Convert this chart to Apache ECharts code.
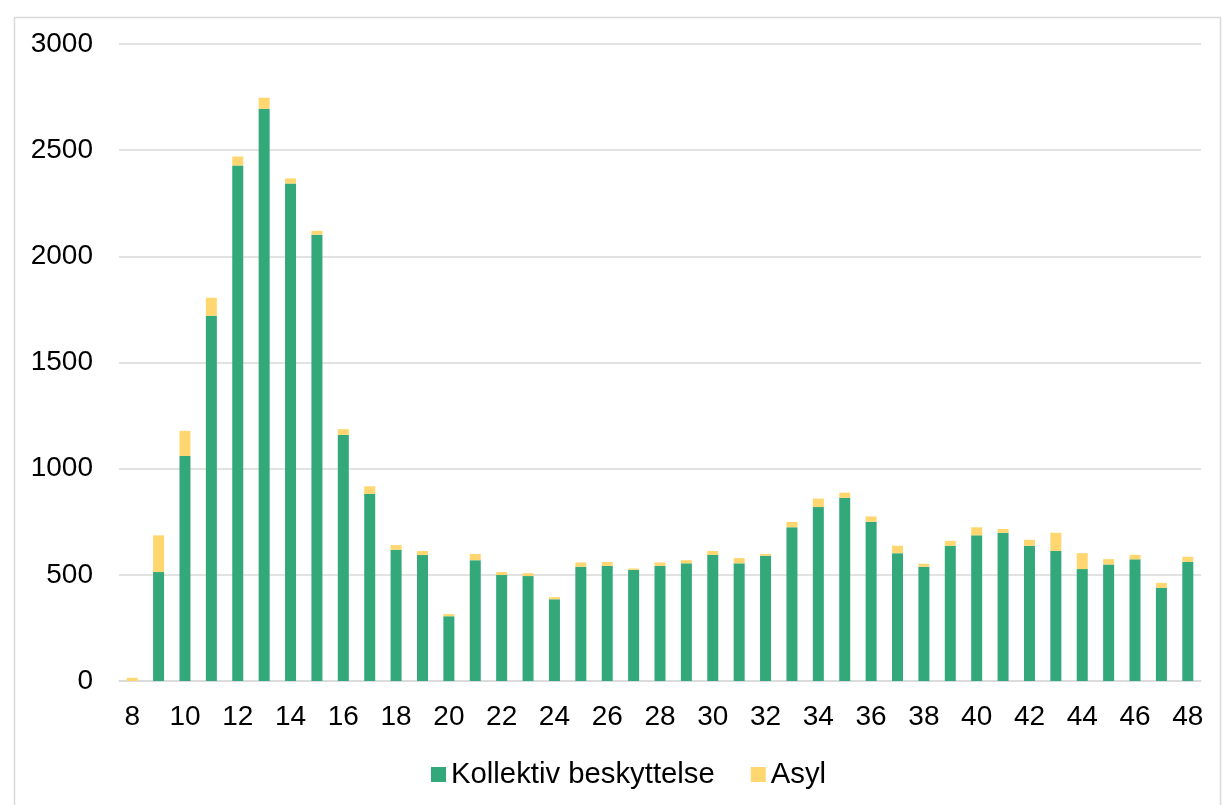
<!DOCTYPE html>
<html>
<head>
<meta charset="utf-8">
<script src="https://cdn.jsdelivr.net/npm/echarts@6/dist/echarts.min.js"></script>
<style>
html,body{margin:0;padding:0;background:#fff;}
#chart{width:1222px;height:805px;}
</style>
</head>
<body>
<div id="chart"></div>
<script>
const weeks = [8,9,10,11,12,13,14,15,16,17,18,19,20,21,22,23,24,25,26,27,28,29,30,31,32,33,34,35,36,37,38,39,40,41,42,43,44,45,46,47,48];
const kollektiv = [0,513,1060,1720,2428,2695,2343,2102,1159,881,618,593,305,569,499,494,385,538,542,524,542,554,594,554,590,724,819,863,750,602,538,637,686,698,637,613,527,549,573,439,561];
const asyl = [15,173,118,85,42,52,24,18,27,36,22,19,10,29,14,14,10,20,18,6,16,15,18,25,8,25,40,24,25,35,14,23,38,18,28,85,75,25,21,23,24];
const yTicks = [0,500,1000,1500,2000,2500,3000];

const chart = echarts.init(document.getElementById('chart'));
const font = 'Liberation Sans, Arial, sans-serif';
chart.setOption({
  animation: false,
  graphic: [{
    type: 'rect', left: 12, top: 15,
    shape: {width: 1206, height: 800},
    style: {fill: 'none', stroke: '#d9d9d9', lineWidth: 1.5},
    silent: true
  }],
  grid: {left: 119, right: 21, top: 44, bottom: 124, containLabel: false},
  legend: {
    top: 755, left: 426,
    itemWidth: 15, itemHeight: 15, itemGap: 36,
    icon: 'rect',
    textStyle: {fontFamily: font, fontSize: 29.3, color: '#000'},
    data: ['Kollektiv beskyttelse', 'Asyl']
  },
  xAxis: {
    type: 'category',
    data: weeks,
    axisLine: {lineStyle: {color: '#d9d9d9', width: 1.5}},
    axisTick: {show: false},
    axisLabel: {interval: 1, fontFamily: font, fontSize: 28, color: '#000', margin: 22}
  },
  yAxis: {
    type: 'value', min: 0, max: 3000, interval: 500,
    axisLine: {show: false}, axisTick: {show: false},
    splitLine: {lineStyle: {color: '#d9d9d9', width: 1.5}},
    axisLabel: {fontFamily: font, fontSize: 28, color: '#000', margin: 26,
      formatter: v => yTicks.includes(v) ? String(v) : ''}
  },
  series: [
    {name: 'Kollektiv beskyttelse', type: 'bar', stack: 't', data: kollektiv,
     barWidth: 11, itemStyle: {color: '#33a87a'}},
    {name: 'Asyl', type: 'bar', stack: 't', data: asyl,
     barWidth: 11, itemStyle: {color: '#ffd66f'}}
  ]
});
</script>
</body>
</html>
